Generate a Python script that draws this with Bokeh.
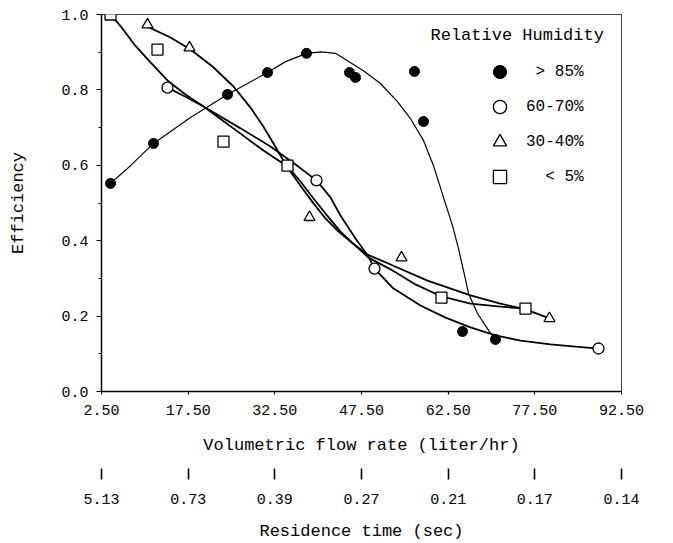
from bokeh.plotting import figure
from bokeh.models import (LinearAxis, FixedTicker, NumeralTickFormatter, Range1d,
                          Legend, LegendItem, Label)
from bokeh.embed import file_html
from bokeh.resources import INLINE

FONT = "Liberation Mono"

# ---- axis ticks / labels ----
flow_ticks = [2.5, 17.5, 32.5, 47.5, 62.5, 77.5, 92.5]
flow_labels = ["2.50", "17.50", "32.50", "47.50", "62.50", "77.50", "92.50"]
residence_labels = ["5.13", "0.73", "0.39", "0.27", "0.21", "0.17", "0.14"]
eff_ticks = [0.0, 0.2, 0.4, 0.6, 0.8, 1.0]
eff_minor = [0.1, 0.3, 0.5, 0.7, 0.9]

# ---- measured points ----
rh85_x = [4.06, 11.50, 24.31, 31.23, 37.98, 45.42, 46.46, 56.67, 58.23, 64.98, 70.69]
rh85_y = [0.552, 0.658, 0.788, 0.846, 0.897, 0.846, 0.833, 0.849, 0.716, 0.159, 0.138]

rh60_x = [13.92, 39.71, 49.75, 88.52]
rh60_y = [0.806, 0.560, 0.326, 0.114]

rh30_x = [10.46, 17.73, 38.50, 54.42, 80.03]
rh30_y = [0.973, 0.912, 0.462, 0.355, 0.194]

rh5_x = [4.06, 12.19, 23.61, 34.69, 61.34, 75.88]
rh5_y = [1.0, 0.907, 0.663, 0.599, 0.249, 0.220]

# ---- hand-drawn fitted curves ----
curve85_x = [4.06, 7.52, 11.50, 17.90, 24.31, 31.23, 34.35, 37.98, 40.5, 43.0, 47.84, 50.78,
             53.72, 55.97, 58.23, 59.96, 61.69, 63.25, 64.29, 65.15, 66.02, 67.58, 69.83, 70.69]
curve85_y = [0.552, 0.599, 0.658, 0.727, 0.788, 0.846, 0.875, 0.897, 0.901, 0.897, 0.851, 0.817,
             0.769, 0.724, 0.666, 0.599, 0.515, 0.440, 0.379, 0.321, 0.260, 0.207, 0.154, 0.138]

curve60_x = [13.92, 17.04, 20.15, 26.56, 31.75, 36.08, 39.71, 42.13, 43.86, 46.46, 48.71,
             49.75, 53.04, 57.71, 62.04, 66.36, 70.69, 75.02, 80.21, 84.54, 88.52]
curve60_y = [0.806, 0.782, 0.756, 0.698, 0.650, 0.602, 0.560, 0.515, 0.467, 0.406, 0.358,
             0.326, 0.273, 0.228, 0.196, 0.170, 0.149, 0.135, 0.125, 0.119, 0.114]

curve30_x = [10.46, 14.44, 17.90, 21.71, 25.35, 28.29, 30.37, 32.27, 34.69, 36.94, 39.19,
             41.27, 43.34, 45.94, 48.54, 52.52, 58.92, 66.36, 71.55, 75.88, 80.03]
curve30_y = [0.968, 0.939, 0.907, 0.862, 0.809, 0.753, 0.706, 0.658, 0.594, 0.546, 0.499,
             0.459, 0.427, 0.393, 0.363, 0.337, 0.294, 0.255, 0.233, 0.218, 0.194]

curve5_x = [4.06, 6.13, 8.04, 10.98, 13.92, 17.04, 20.15, 26.56, 30.54, 34.69, 36.94,
            39.19, 41.27, 43.86, 46.46, 48.71, 52.52, 56.84, 61.34, 66.36, 71.55, 75.88]
curve5_y = [1.0, 0.963, 0.923, 0.873, 0.825, 0.788, 0.756, 0.684, 0.639, 0.597, 0.557,
            0.512, 0.472, 0.424, 0.387, 0.355, 0.324, 0.284, 0.252, 0.233, 0.225, 0.220]

legend_labels = ["\u00a0> 85%", "60-70%", "30-40%", "\u00a0\u00a0< 5%"]

p = figure(width=660, height=543, x_range=Range1d(2.5, 92.5), y_range=Range1d(0.0, 1.0),
           output_backend="svg", toolbar_location=None,
           min_border_left=101, min_border_right=39, min_border_top=14, min_border_bottom=10)
p.xgrid.visible = False
p.ygrid.visible = False
p.outline_line_color = "black"
p.outline_line_alpha = 0.75
p.outline_line_width = 1
p.background_fill_color = "white"
p.border_fill_color = "white"

# primary x axis
xa = p.xaxis[0]
xa.ticker = FixedTicker(ticks=flow_ticks)
xa.major_label_overrides = dict(zip(flow_ticks, flow_labels))
xa.minor_tick_line_color = None
xa.major_tick_in = 0
xa.major_tick_out = 3
xa.major_tick_line_width = 1.2
xa.axis_line_width = 1.5
xa.major_label_standoff = 10
xa.major_label_text_font = FONT
xa.major_label_text_font_size = "15px"
xa.major_label_text_color = "black"
xa.axis_label = "Volumetric flow rate (liter/hr)"
xa.axis_label_text_font = FONT
xa.axis_label_text_font_size = "17px"
xa.axis_label_text_font_style = "normal"
xa.axis_label_text_color = "black"
xa.axis_label_standoff = 18

# y axis
ya = p.yaxis[0]
ya.ticker = FixedTicker(ticks=eff_ticks, minor_ticks=eff_minor)
ya.formatter = NumeralTickFormatter(format="0.0")
ya.major_tick_in = 0
ya.major_tick_out = 5
ya.minor_tick_in = 0
ya.minor_tick_out = 3
ya.major_tick_line_width = 1.2
ya.axis_line_width = 1.5
ya.major_label_standoff = 8
ya.major_label_text_font = FONT
ya.major_label_text_font_size = "15px"
ya.major_label_text_color = "black"
ya.axis_label = "Efficiency"
ya.axis_label_text_font = FONT
ya.axis_label_text_font_size = "17px"
ya.axis_label_text_font_style = "normal"
ya.axis_label_text_color = "black"
ya.axis_label_standoff = 30

# secondary axis: residence time
ra = LinearAxis(ticker=FixedTicker(ticks=flow_ticks),
                major_label_overrides=dict(zip(flow_ticks, residence_labels)),
                axis_line_color=None, minor_tick_line_color=None,
                major_tick_in=-11, major_tick_out=22, major_tick_line_width=1.6,
                major_label_standoff=14,
                major_label_text_font=FONT, major_label_text_font_size="15px",
                major_label_text_color="black",
                axis_label="Residence time (sec)", axis_label_text_font=FONT,
                axis_label_text_font_size="17px", axis_label_text_font_style="normal",
                axis_label_text_color="black", axis_label_standoff=15)
p.add_layout(ra, "below")

# curves
p.line(curve85_x, curve85_y, line_color="black", line_width=1.2)
p.line(curve60_x, curve60_y, line_color="black", line_width=1.8)
p.line(curve30_x, curve30_y, line_color="black", line_width=1.8)
p.line(curve5_x, curve5_y, line_color="black", line_width=1.8)

# points
r85 = p.scatter(rh85_x, rh85_y, marker="circle", size=10, fill_color="black", line_color="black")
r60 = p.scatter(rh60_x, rh60_y, marker="circle", size=11, fill_color="white",
                line_color="black", line_width=1.3)
r30 = p.scatter(rh30_x, rh30_y, marker="triangle", size=11, fill_color="white",
                line_color="black", line_width=1.3)
r5 = p.scatter(rh5_x, rh5_y, marker="square", size=11, fill_color="white",
               line_color="black", line_width=1.3)

legend = Legend(items=[LegendItem(label=legend_labels[0], renderers=[r85]),
                       LegendItem(label=legend_labels[1], renderers=[r60]),
                       LegendItem(label=legend_labels[2], renderers=[r30]),
                       LegendItem(label=legend_labels[3], renderers=[r5])],
                location=(382, 198), glyph_width=33, glyph_height=33, label_standoff=10,
                spacing=2, padding=0, margin=0, border_line_color=None,
                background_fill_alpha=0, label_text_font=FONT, label_text_font_size="16px",
                label_text_color="black")
p.add_layout(legend)

p.add_layout(Label(x=329, y=356, x_units="screen", y_units="screen", text="Relative Humidity",
                   text_font=FONT, text_font_size="17px", text_baseline="middle",
                   text_align="left", text_color="black"))

open("out.html", "w").write(file_html(p, INLINE))
